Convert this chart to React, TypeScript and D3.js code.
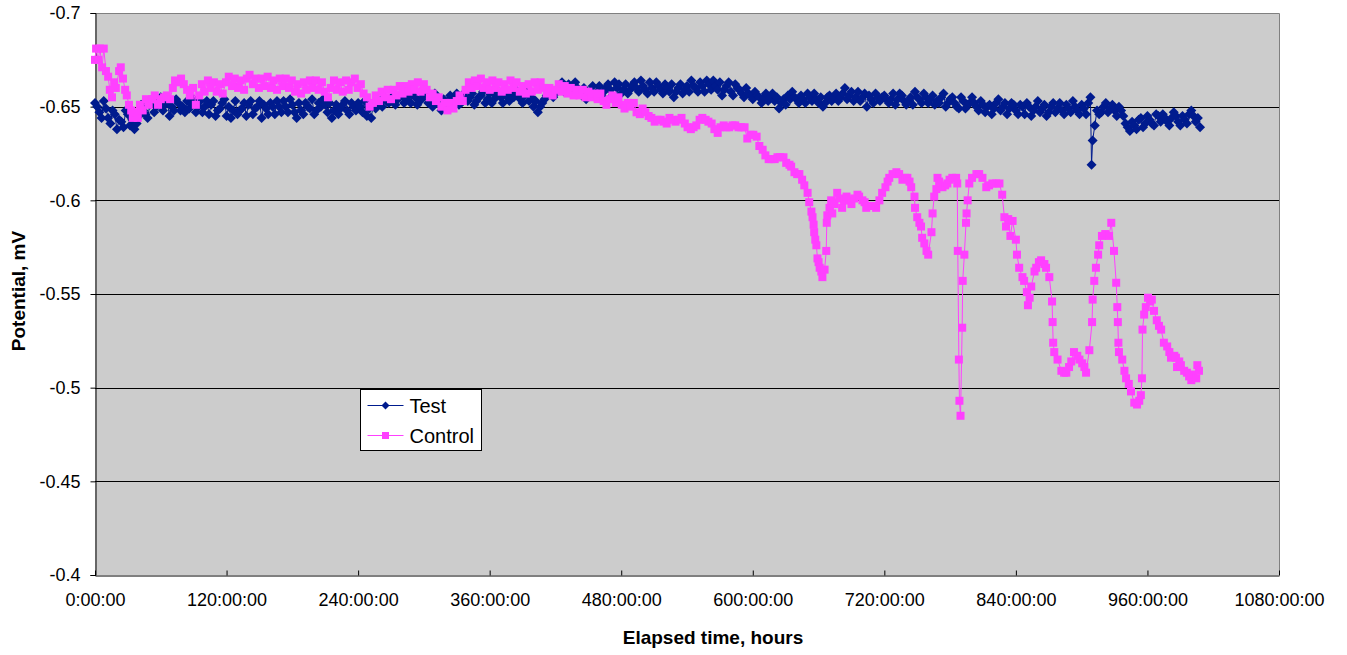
import React, { useEffect, useRef } from "react";
import * as d3 from "d3";

// Elapsed time (hours) and potential (mV)
const testData: [number, number][] = [
  [0, -0.652], [2, -0.65], [4, -0.647], [6, -0.644], [8, -0.653], [10, -0.649], [12, -0.644], [14, -0.641],
  [16, -0.648], [18, -0.646], [20, -0.638], [22, -0.643], [24, -0.642], [26, -0.639], [28, -0.648], [30, -0.646],
  [32, -0.64], [34, -0.643], [36, -0.638], [38, -0.641], [40, -0.645], [42, -0.651], [44, -0.648], [46, -0.646],
  [48, -0.644], [50, -0.651], [52, -0.654], [54, -0.647], [56, -0.65], [58, -0.653], [60, -0.655], [62, -0.648],
  [64, -0.651], [66, -0.652], [68, -0.645], [70, -0.65], [72, -0.648], [74, -0.654], [76, -0.652], [78, -0.648],
  [80, -0.65], [82, -0.647], [84, -0.653], [86, -0.649], [88, -0.652], [90, -0.654], [92, -0.647], [94, -0.65],
  [96, -0.653], [98, -0.647], [100, -0.65], [102, -0.653], [104, -0.646], [106, -0.651], [108, -0.653], [110, -0.645],
  [112, -0.648], [114, -0.649], [116, -0.652], [118, -0.654], [120, -0.645], [122, -0.65], [124, -0.644], [126, -0.648],
  [128, -0.653], [130, -0.646], [132, -0.648], [134, -0.649], [136, -0.652], [138, -0.645], [140, -0.651], [142, -0.653],
  [144, -0.646], [146, -0.649], [148, -0.65], [150, -0.653], [152, -0.644], [154, -0.651], [156, -0.649], [158, -0.646],
  [160, -0.652], [162, -0.65], [164, -0.646], [166, -0.653], [168, -0.65], [170, -0.647], [172, -0.653], [174, -0.65],
  [176, -0.647], [178, -0.654], [180, -0.651], [182, -0.647], [184, -0.644], [186, -0.652], [188, -0.648], [190, -0.646],
  [192, -0.652], [194, -0.65], [196, -0.649], [198, -0.654], [200, -0.646], [202, -0.648], [204, -0.652], [206, -0.65],
  [208, -0.654], [210, -0.651], [212, -0.647], [214, -0.652], [216, -0.644], [218, -0.648], [220, -0.651], [222, -0.646],
  [224, -0.649], [226, -0.651], [228, -0.653], [230, -0.648], [232, -0.646], [234, -0.652], [236, -0.65], [238, -0.648],
  [240, -0.652], [242, -0.65], [244, -0.647], [246, -0.653], [248, -0.645], [250, -0.649], [252, -0.644], [254, -0.652],
  [256, -0.649], [258, -0.651], [260, -0.653], [262, -0.65], [264, -0.655], [266, -0.653], [268, -0.652], [270, -0.654],
  [272, -0.656], [274, -0.651], [276, -0.654], [278, -0.655], [280, -0.657], [282, -0.652], [284, -0.654], [286, -0.656],
  [288, -0.652], [290, -0.658], [292, -0.655], [294, -0.651], [296, -0.653], [298, -0.654], [300, -0.656], [302, -0.658],
  [304, -0.652], [306, -0.655], [308, -0.65], [310, -0.657], [312, -0.653], [314, -0.651], [316, -0.648], [318, -0.654],
  [320, -0.651], [322, -0.653], [324, -0.656], [326, -0.651], [328, -0.654], [330, -0.657], [332, -0.651], [334, -0.652],
  [336, -0.655], [338, -0.658], [340, -0.653], [342, -0.655], [344, -0.657], [346, -0.651], [348, -0.653], [350, -0.655],
  [352, -0.656], [354, -0.658], [356, -0.652], [358, -0.654], [360, -0.657], [362, -0.652], [364, -0.654], [366, -0.656],
  [368, -0.658], [370, -0.655], [372, -0.652], [374, -0.658], [376, -0.655], [378, -0.653], [380, -0.657], [382, -0.655],
  [384, -0.659], [386, -0.657], [388, -0.654], [390, -0.652], [392, -0.656], [394, -0.658], [396, -0.653], [398, -0.655],
  [400, -0.65], [402, -0.653], [404, -0.647], [406, -0.65], [408, -0.652], [410, -0.654], [412, -0.656], [414, -0.658],
  [416, -0.659], [418, -0.655], [420, -0.657], [422, -0.659], [424, -0.661], [426, -0.663], [428, -0.658], [430, -0.66],
  [432, -0.662], [434, -0.659], [436, -0.657], [438, -0.663], [440, -0.66], [442, -0.658], [444, -0.656], [446, -0.66],
  [448, -0.654], [450, -0.657], [452, -0.658], [454, -0.661], [456, -0.655], [458, -0.658], [460, -0.661], [462, -0.656],
  [464, -0.658], [466, -0.66], [468, -0.662], [470, -0.659], [472, -0.656], [474, -0.663], [476, -0.66], [478, -0.662],
  [480, -0.657], [482, -0.659], [484, -0.662], [486, -0.657], [488, -0.659], [490, -0.661], [492, -0.663], [494, -0.66],
  [496, -0.658], [498, -0.664], [500, -0.661], [502, -0.659], [504, -0.657], [506, -0.663], [508, -0.66], [510, -0.658],
  [512, -0.663], [514, -0.661], [516, -0.659], [518, -0.657], [520, -0.662], [522, -0.66], [524, -0.658], [526, -0.662],
  [528, -0.655], [530, -0.658], [532, -0.66], [534, -0.662], [536, -0.657], [538, -0.659], [540, -0.661], [542, -0.658],
  [544, -0.664], [546, -0.661], [548, -0.66], [550, -0.658], [552, -0.663], [554, -0.661], [556, -0.658], [558, -0.664],
  [560, -0.662], [562, -0.659], [564, -0.664], [566, -0.661], [568, -0.659], [570, -0.663], [572, -0.656], [574, -0.659],
  [576, -0.661], [578, -0.663], [580, -0.658], [582, -0.656], [584, -0.662], [586, -0.66], [588, -0.659], [590, -0.657],
  [592, -0.655], [594, -0.66], [596, -0.657], [598, -0.656], [600, -0.654], [602, -0.658], [604, -0.656], [606, -0.655],
  [608, -0.652], [610, -0.655], [612, -0.657], [614, -0.653], [616, -0.655], [618, -0.657], [620, -0.653], [622, -0.655],
  [624, -0.649], [626, -0.652], [628, -0.654], [630, -0.651], [632, -0.656], [634, -0.654], [636, -0.658], [638, -0.655],
  [640, -0.654], [642, -0.652], [644, -0.656], [646, -0.654], [648, -0.652], [650, -0.657], [652, -0.655], [654, -0.653],
  [656, -0.657], [658, -0.654], [660, -0.652], [662, -0.655], [664, -0.65], [666, -0.652], [668, -0.655], [670, -0.656],
  [672, -0.653], [674, -0.655], [676, -0.657], [678, -0.653], [680, -0.655], [682, -0.657], [684, -0.66], [686, -0.654],
  [688, -0.656], [690, -0.658], [692, -0.653], [694, -0.655], [696, -0.658], [698, -0.653], [700, -0.655], [702, -0.657],
  [704, -0.65], [706, -0.656], [708, -0.654], [710, -0.652], [712, -0.657], [714, -0.655], [716, -0.653], [718, -0.655],
  [720, -0.656], [722, -0.654], [724, -0.652], [726, -0.654], [728, -0.657], [730, -0.651], [732, -0.654], [734, -0.657],
  [736, -0.656], [738, -0.653], [740, -0.651], [742, -0.653], [744, -0.655], [746, -0.651], [748, -0.658], [750, -0.655],
  [752, -0.654], [754, -0.652], [756, -0.657], [758, -0.655], [760, -0.652], [762, -0.654], [764, -0.656], [766, -0.651],
  [768, -0.653], [770, -0.652], [772, -0.655], [774, -0.657], [776, -0.65], [778, -0.652], [780, -0.654], [782, -0.655],
  [784, -0.652], [786, -0.65], [788, -0.649], [790, -0.655], [792, -0.653], [794, -0.649], [796, -0.651], [798, -0.652],
  [800, -0.655], [802, -0.652], [804, -0.65], [806, -0.648], [808, -0.653], [810, -0.651], [812, -0.647], [814, -0.65],
  [816, -0.651], [818, -0.646], [820, -0.649], [822, -0.652], [824, -0.654], [826, -0.648], [828, -0.65], [830, -0.652],
  [832, -0.646], [834, -0.649], [836, -0.652], [838, -0.651], [840, -0.648], [842, -0.646], [844, -0.651], [846, -0.65],
  [848, -0.646], [850, -0.652], [852, -0.65], [854, -0.645], [856, -0.648], [858, -0.65], [860, -0.653], [862, -0.647],
  [864, -0.649], [866, -0.651], [868, -0.645], [870, -0.647], [872, -0.65], [874, -0.652], [876, -0.647], [878, -0.649],
  [880, -0.652], [882, -0.648], [884, -0.646], [886, -0.651], [888, -0.649], [890, -0.647], [892, -0.653], [894, -0.65],
  [896, -0.648], [898, -0.646], [900, -0.651], [902, -0.649], [904, -0.646], [906, -0.652], [908, -0.655], [909, -0.619],
  [910, -0.632], [912, -0.64], [914, -0.648], [916, -0.646], [918, -0.647], [920, -0.65], [922, -0.652], [924, -0.647],
  [926, -0.649], [928, -0.651], [930, -0.648], [932, -0.645], [934, -0.65], [936, -0.648], [938, -0.645], [940, -0.641],
  [942, -0.639], [944, -0.637], [946, -0.642], [948, -0.64], [950, -0.638], [952, -0.643], [954, -0.644], [956, -0.639],
  [958, -0.641], [960, -0.645], [962, -0.643], [964, -0.641], [966, -0.64], [968, -0.646], [970, -0.645], [972, -0.642],
  [974, -0.646], [976, -0.644], [978, -0.642], [980, -0.64], [982, -0.644], [984, -0.647], [986, -0.645], [988, -0.642],
  [990, -0.64], [992, -0.645], [994, -0.643], [996, -0.641], [998, -0.646], [1000, -0.648], [1002, -0.645], [1004, -0.642],
  [1006, -0.644], [1008, -0.639],
];

const controlData: [number, number][] = [
  [0, -0.675], [1, -0.681], [3, -0.675], [4.5, -0.681], [6.5, -0.671], [8, -0.681], [10, -0.669], [12, -0.666],
  [13.5, -0.659], [15.5, -0.655], [17.5, -0.663], [19, -0.66], [22, -0.669], [23.5, -0.671], [25.5, -0.665], [27.5, -0.659],
  [29, -0.656], [31, -0.651], [33, -0.648], [34.5, -0.644], [36.5, -0.647], [39, -0.644], [41, -0.651], [43.5, -0.648],
  [46.5, -0.654], [49, -0.651], [52, -0.654], [54.5, -0.656], [57.5, -0.651], [60, -0.654], [63, -0.655], [65.5, -0.656],
  [68.5, -0.654], [71, -0.66], [73, -0.664], [75.5, -0.663], [78.5, -0.665], [81, -0.662], [84, -0.659], [86.5, -0.656],
  [89.5, -0.66], [92, -0.651], [95, -0.656], [97.5, -0.662], [100, -0.658], [103, -0.664], [105.5, -0.66], [108.5, -0.663],
  [111, -0.658], [114, -0.662], [116.5, -0.657], [119.5, -0.663], [122, -0.666], [125, -0.661], [127.5, -0.665], [130.5, -0.66],
  [133, -0.664], [136, -0.659], [138.5, -0.665], [141, -0.667], [144, -0.662], [146.5, -0.665], [149.5, -0.66], [152, -0.665],
  [155, -0.661], [157.5, -0.666], [160.5, -0.66], [163, -0.664], [166, -0.659], [168.5, -0.665], [171.5, -0.661], [174, -0.665],
  [177, -0.66], [179.5, -0.664], [182.5, -0.658], [185, -0.662], [188, -0.657], [190.5, -0.663], [193, -0.659], [196, -0.664],
  [198.5, -0.66], [201.5, -0.664], [204, -0.659], [207, -0.663], [209.5, -0.658], [212.5, -0.655], [215, -0.66], [218, -0.664],
  [220.5, -0.659], [223.5, -0.663], [226, -0.658], [229, -0.664], [231.5, -0.659], [234, -0.663], [237, -0.665], [239.5, -0.66],
  [242.5, -0.662], [245, -0.657], [248, -0.655], [250.5, -0.65], [253.5, -0.652], [256, -0.656], [259, -0.653], [261.5, -0.658],
  [264.5, -0.655], [267, -0.659], [270, -0.654], [272.5, -0.659], [275, -0.656], [278, -0.661], [280.5, -0.657], [283.5, -0.661],
  [286, -0.658], [289, -0.662], [291.5, -0.659], [294.5, -0.663], [297, -0.658], [300, -0.662], [302.5, -0.659], [305.5, -0.655],
  [308, -0.657], [311, -0.653], [313.5, -0.655], [316, -0.65], [319, -0.652], [321.5, -0.648], [324.5, -0.652], [327, -0.649],
  [330, -0.653], [332.5, -0.656], [335.5, -0.653], [338, -0.659], [341, -0.663], [343.5, -0.66], [346.5, -0.664], [349, -0.661],
  [352, -0.665], [354.5, -0.66], [357.5, -0.663], [360, -0.659], [362.5, -0.664], [365.5, -0.66], [368, -0.663], [371, -0.658],
  [373.5, -0.662], [376.5, -0.659], [379, -0.664], [382, -0.66], [384.5, -0.663], [387.5, -0.658], [390, -0.661], [393, -0.657],
  [395.5, -0.662], [398.5, -0.658], [401, -0.663], [404, -0.659], [406.5, -0.663], [409, -0.66], [412, -0.657], [414.5, -0.66],
  [417.5, -0.656], [420, -0.659], [423, -0.662], [425.5, -0.658], [428.5, -0.661], [431, -0.657], [434, -0.66], [436.5, -0.656],
  [439.5, -0.659], [442, -0.656], [445, -0.659], [447.5, -0.655], [450, -0.658], [453, -0.655], [455.5, -0.657], [458.5, -0.654],
  [461, -0.657], [464, -0.653], [466.5, -0.651], [469.5, -0.654], [472, -0.656], [475, -0.652], [477.5, -0.655], [480.5, -0.651],
  [483, -0.649], [486, -0.652], [488.5, -0.65], [491.5, -0.652], [494, -0.647], [497, -0.646], [499.5, -0.649], [502, -0.647],
  [505, -0.645], [507.5, -0.644], [510.5, -0.642], [513, -0.643], [516, -0.643], [518.5, -0.642], [521.5, -0.641], [524, -0.644],
  [527, -0.643], [529.5, -0.642], [532.5, -0.643], [535, -0.644], [538, -0.641], [540.5, -0.639], [543.5, -0.638], [546, -0.639],
  [548.5, -0.64], [551.5, -0.643], [554, -0.644], [557, -0.643], [559.5, -0.642], [562.5, -0.641], [565, -0.638], [568, -0.636],
  [570.5, -0.639], [573.5, -0.64], [576, -0.639], [578.5, -0.639], [581.5, -0.64], [584, -0.64], [587, -0.639], [589.5, -0.639],
  [592.5, -0.639], [595, -0.633], [598, -0.635], [600.5, -0.635], [603.5, -0.634], [606, -0.629], [609, -0.627], [611.5, -0.624],
  [614.5, -0.622], [617, -0.622], [620, -0.622], [622.5, -0.623], [625, -0.623], [628, -0.623], [630.5, -0.62], [633.5, -0.619],
  [635, -0.618], [638, -0.615], [640.5, -0.614], [642.5, -0.614], [645, -0.611], [647, -0.608], [650, -0.604], [651.5, -0.599],
  [653.5, -0.594], [654.5, -0.591], [655.5, -0.587], [656, -0.583], [657, -0.579], [658, -0.576], [659, -0.569], [660, -0.567],
  [661, -0.564], [662.5, -0.562], [663.5, -0.559], [665.5, -0.563], [667, -0.573], [667.5, -0.588], [668, -0.592], [670, -0.596],
  [671.5, -0.6], [672.5, -0.593], [674.5, -0.598], [677, -0.604], [679, -0.601], [681.5, -0.596], [683.5, -0.6], [685.5, -0.602],
  [688, -0.6], [690, -0.598], [692.5, -0.601], [695.5, -0.603], [697, -0.602], [700, -0.6], [702, -0.599], [703.5, -0.596],
  [706.5, -0.597], [709, -0.597], [712.5, -0.596], [715.5, -0.6], [718, -0.604], [721, -0.607], [723, -0.61], [724.5, -0.612],
  [727.5, -0.614], [731, -0.615], [733.5, -0.614], [736.5, -0.611], [739, -0.612], [741, -0.612], [743, -0.61], [744.5, -0.607],
  [747.5, -0.602], [748, -0.596], [750, -0.591], [752, -0.588], [753.5, -0.586], [754.5, -0.58], [756.5, -0.577], [758.5, -0.573],
  [760, -0.571], [763, -0.583], [764, -0.593], [765.5, -0.602], [767.5, -0.606], [768.5, -0.612], [770, -0.61], [773, -0.607],
  [775.5, -0.608], [777.5, -0.609], [779.5, -0.611], [782, -0.612], [785.5, -0.612], [786.5, -0.609], [787, -0.573], [788, -0.515],
  [788.5, -0.493], [789.5, -0.485], [791, -0.532], [791.5, -0.557], [793, -0.571], [794.5, -0.588], [795, -0.593], [796, -0.6],
  [797.5, -0.609], [800, -0.612], [804, -0.614], [806.5, -0.614], [809.5, -0.612], [813, -0.607], [815.5, -0.608], [818.5, -0.609],
  [822, -0.609], [825, -0.609], [827.5, -0.603], [829.5, -0.591], [831, -0.586], [833, -0.59], [835, -0.581], [837, -0.589],
  [840, -0.579], [841, -0.571], [843, -0.564], [846, -0.559], [847.5, -0.557], [850, -0.551], [851, -0.544], [852.5, -0.548],
  [854, -0.554], [857, -0.562], [858.5, -0.564], [861, -0.567], [863, -0.568], [866, -0.566], [867.5, -0.564], [870.5, -0.559],
  [873, -0.546], [873.5, -0.535], [874, -0.524], [875, -0.519], [878, -0.515], [881.5, -0.509], [884, -0.508], [886, -0.508],
  [888.5, -0.511], [890.5, -0.514], [893, -0.519], [896, -0.517], [898, -0.515], [900.5, -0.513], [902.5, -0.511], [904, -0.508],
  [907, -0.52], [909.5, -0.535], [910, -0.547], [911.5, -0.557], [913, -0.564], [915, -0.571], [916, -0.576], [918.5, -0.581],
  [921.5, -0.582], [925, -0.581], [927, -0.588], [929.5, -0.573], [931.5, -0.556], [932.5, -0.543], [933, -0.535], [933.5, -0.524],
  [934, -0.519], [937, -0.515], [939, -0.509], [940.5, -0.505], [943, -0.502], [945, -0.498], [948, -0.492], [950.5, -0.491],
  [952.5, -0.493], [954, -0.496], [955, -0.505], [955.5, -0.531], [957, -0.539], [958.5, -0.543], [960.5, -0.548], [962.5, -0.546],
  [964, -0.547], [966, -0.541], [968.5, -0.536], [970.5, -0.533], [972.5, -0.531], [975, -0.524], [978, -0.522], [980, -0.519],
  [981.5, -0.516], [984.5, -0.517], [986, -0.516], [987, -0.511], [989, -0.514], [990.5, -0.512], [993.5, -0.509], [996, -0.508],
  [998, -0.506], [1000, -0.504], [1002, -0.507], [1004.5, -0.505], [1005.5, -0.512], [1007, -0.509],
];

const xTicks = [0, 120, 240, 360, 480, 600, 720, 840, 960, 1080];
const yTicks = [-0.7, -0.65, -0.6, -0.55, -0.5, -0.45, -0.4];
const seriesNames = ["Test", "Control"];

const width = 1347;
const height = 655;
const plot = { left: 95, top: 13, right: 1279, bottom: 575 };
const font = "'Liberation Sans', Arial, sans-serif";
const testColor = "#001b8e";
const controlColor = "#ff40ff";

const App: React.FC = () => {
  const svgRef = useRef<SVGSVGElement>(null);

  useEffect(() => {
    if (!svgRef.current) return;
    const svg = d3.select(svgRef.current);
    svg.selectAll("*").remove();

    const x = d3.scaleLinear().domain([0, 1080]).range([plot.left, plot.right]);
    const y = d3.scaleLinear().domain([-0.7, -0.4]).range([plot.top, plot.bottom]);

    // plot background
    svg
      .append("rect")
      .attr("x", plot.left)
      .attr("y", plot.top)
      .attr("width", plot.right - plot.left)
      .attr("height", plot.bottom - plot.top)
      .attr("fill", "#cccccc");

    // horizontal grid lines
    svg
      .append("g")
      .selectAll("line")
      .data(yTicks.slice(1, -1))
      .enter()
      .append("line")
      .attr("x1", plot.left)
      .attr("x2", plot.right)
      .attr("y1", (d) => Math.round(y(d)) + 0.5)
      .attr("y2", (d) => Math.round(y(d)) + 0.5)
      .attr("stroke", "#000")
      .attr("stroke-width", 1);

    // top / right border
    svg
      .append("path")
      .attr("d", `M${plot.left},${plot.top + 0.5}H${plot.right + 0.5}V${plot.bottom}`)
      .attr("fill", "none")
      .attr("stroke", "#808080")
      .attr("stroke-width", 1);

    // axes
    const yAxis = svg
      .append("g")
      .attr("transform", `translate(${plot.left + 0.5},0)`)
      .call(
        d3
          .axisLeft(y)
          .tickValues(yTicks)
          .tickSize(5)
          .tickPadding(10)
          .tickFormat((d) => String(d))
      );
    const xAxis = svg
      .append("g")
      .attr("transform", `translate(0,${plot.bottom + 0.5})`)
      .call(
        d3
          .axisBottom(x)
          .tickValues(xTicks)
          .tickSizeInner(-5)
          .tickSizeOuter(0)
          .tickPadding(18)
          .tickFormat((d) => `${d}:00:00`)
      );
    [xAxis, yAxis].forEach((ax) => {
      ax.select(".domain").attr("stroke", "#000");
      ax.selectAll("line").attr("stroke", "#000");
      ax.selectAll("text")
        .attr("fill", "#000")
        .attr("font-family", font)
        .attr("font-size", "18px");
    });

    // series
    const line = d3
      .line<[number, number]>()
      .x((d) => x(d[0]))
      .y((d) => y(d[1]));

    const diamond = "M0,-5L5,0L0,5L-5,0Z";

    svg
      .append("path")
      .datum(testData)
      .attr("d", line)
      .attr("fill", "none")
      .attr("stroke", testColor)
      .attr("stroke-width", 1);
    svg
      .append("g")
      .selectAll("path")
      .data(testData)
      .enter()
      .append("path")
      .attr("d", diamond)
      .attr("transform", (d) => `translate(${x(d[0])},${y(d[1])})`)
      .attr("fill", testColor);

    svg
      .append("path")
      .datum(controlData)
      .attr("d", line)
      .attr("fill", "none")
      .attr("stroke", controlColor)
      .attr("stroke-width", 1);
    svg
      .append("g")
      .selectAll("rect")
      .data(controlData)
      .enter()
      .append("rect")
      .attr("x", (d) => x(d[0]) - 4)
      .attr("y", (d) => y(d[1]) - 4)
      .attr("width", 8)
      .attr("height", 8)
      .attr("fill", controlColor);

    // axis titles
    svg
      .append("text")
      .attr("x", 713)
      .attr("y", 644)
      .attr("text-anchor", "middle")
      .attr("font-family", font)
      .attr("font-size", "19px")
      .attr("font-weight", "bold")
      .text("Elapsed time, hours");

    svg
      .append("text")
      .attr("transform", "translate(25,291) rotate(-90)")
      .attr("text-anchor", "middle")
      .attr("font-family", font)
      .attr("font-size", "19px")
      .attr("font-weight", "bold")
      .text("Potential, mV");

    // legend
    const legend = svg.append("g").attr("transform", "translate(360.5,389.5)");
    legend
      .append("rect")
      .attr("width", 121)
      .attr("height", 61)
      .attr("fill", "#fff")
      .attr("stroke", "#000")
      .attr("stroke-width", 1);

    seriesNames.forEach((name, i) => {
      const color = i === 0 ? testColor : controlColor;
      const item = legend.append("g").attr("transform", `translate(0,${16 + i * 30})`);
      item
        .append("line")
        .attr("x1", 7)
        .attr("x2", 43)
        .attr("stroke", color)
        .attr("stroke-width", 1);
      if (i === 0) {
        item.append("path").attr("d", "M0,-4L4,0L0,4L-4,0Z").attr("transform", "translate(25,0)").attr("fill", color);
      } else {
        item.append("rect").attr("x", 21.5).attr("y", -3.5).attr("width", 7).attr("height", 7).attr("fill", color);
      }
      item
        .append("text")
        .attr("x", 49)
        .attr("y", 7)
        .attr("font-family", font)
        .attr("font-size", "20px")
        .text(name);
    });
  }, []);

  return (
    <div style={{ position: "absolute", left: 0, top: 0, width, height, background: "#fff" }}>
      <svg ref={svgRef} width={width} height={height} style={{ display: "block" }} />
    </div>
  );
};

export default App;
